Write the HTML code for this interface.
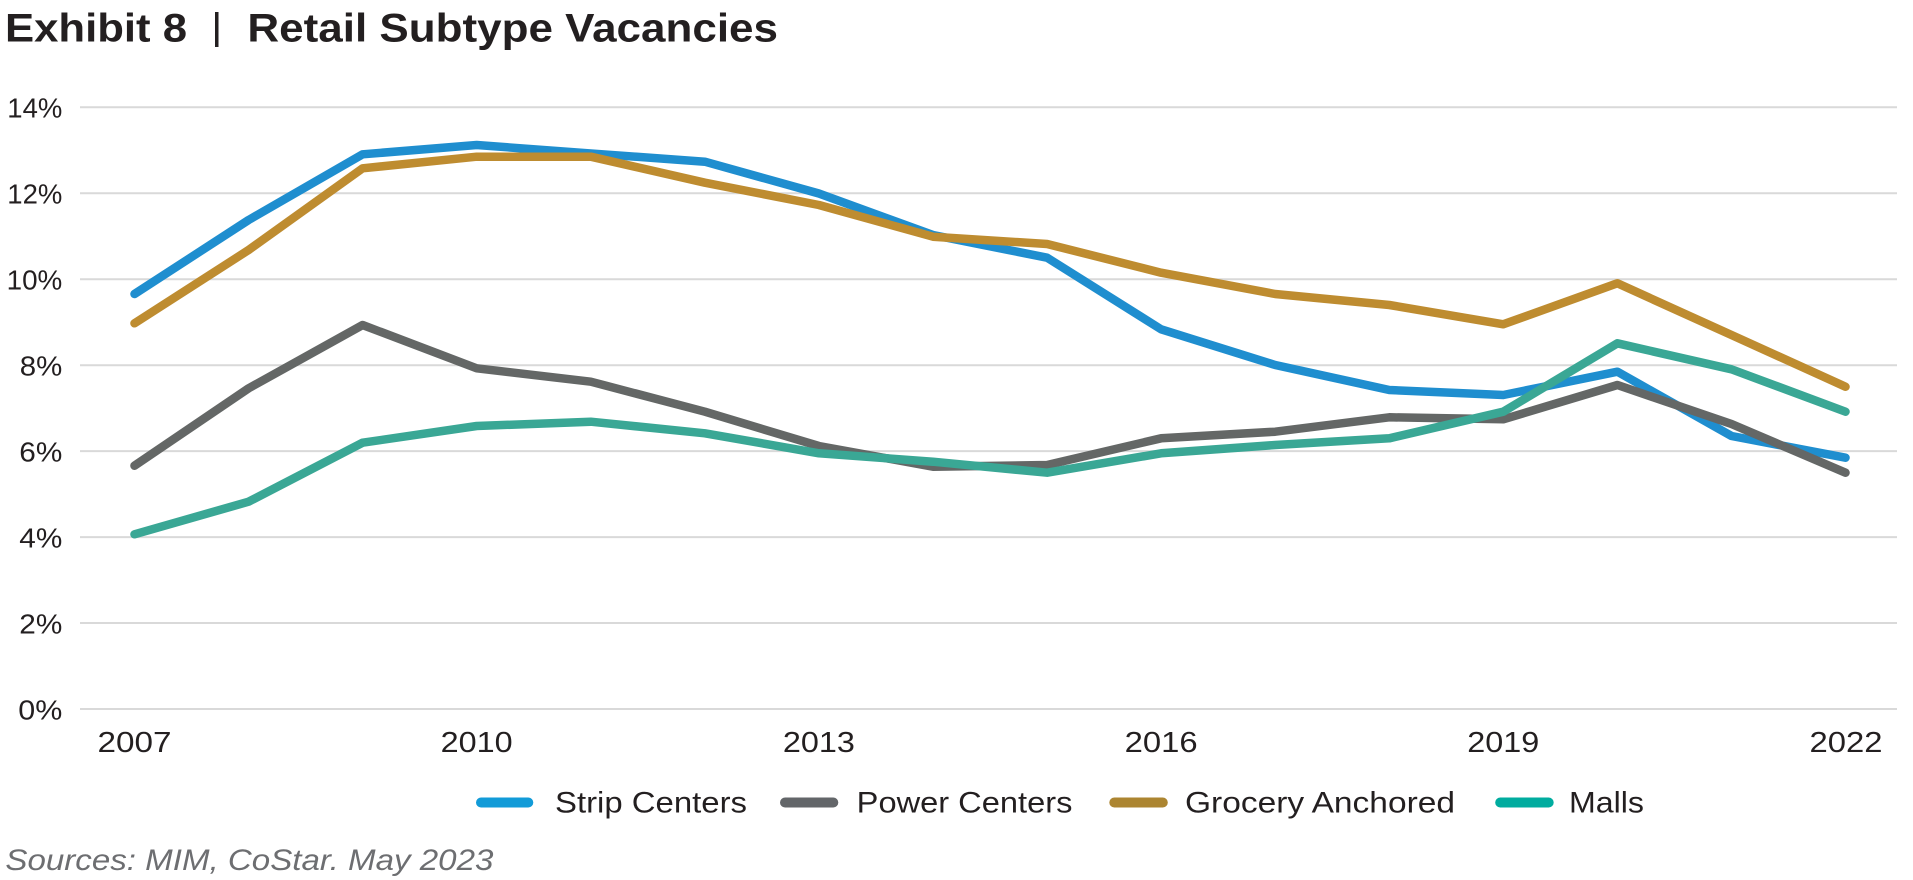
<!DOCTYPE html>
<html>
<head>
<meta charset="utf-8">
<style>
  html, body { margin: 0; padding: 0; background: #ffffff; }
  body { width: 1913px; height: 880px; overflow: hidden; }
  svg { display: block; }
  text { font-family: "Liberation Sans", sans-serif; }
</style>
</head>
<body>
<svg width="1913" height="880" viewBox="0 0 1913 880" xmlns="http://www.w3.org/2000/svg">
  <rect x="0" y="0" width="1913" height="880" fill="#ffffff"/>

  <!-- Title -->
  <text x="5" y="41.7" font-size="40" font-weight="bold" fill="#231f20" textLength="182" lengthAdjust="spacingAndGlyphs">Exhibit 8</text>
  <rect x="215" y="12" width="3.5" height="35" fill="#231f20"/>
  <text x="247.4" y="41.7" font-size="40" font-weight="bold" fill="#231f20" textLength="530.6" lengthAdjust="spacingAndGlyphs">Retail Subtype Vacancies</text>

  <!-- Gridlines -->
  <g stroke="#d9d9d9" stroke-width="2">
    <line x1="80" y1="107.3" x2="1897" y2="107.3"/>
    <line x1="80" y1="193.2" x2="1897" y2="193.2"/>
    <line x1="80" y1="279.2" x2="1897" y2="279.2"/>
    <line x1="80" y1="365.2" x2="1897" y2="365.2"/>
    <line x1="80" y1="451.1" x2="1897" y2="451.1"/>
    <line x1="80" y1="537.1" x2="1897" y2="537.1"/>
    <line x1="80" y1="623.0" x2="1897" y2="623.0"/>
    <line x1="80" y1="709.0" x2="1897" y2="709.0"/>
  </g>

  <!-- Y labels -->
  <g font-size="28" fill="#231f20" text-anchor="end">
    <text x="62.3" y="117.5" textLength="55" lengthAdjust="spacingAndGlyphs">14%</text>
    <text x="62.3" y="203.5" textLength="55" lengthAdjust="spacingAndGlyphs">12%</text>
    <text x="62.3" y="289.5" textLength="55.7" lengthAdjust="spacingAndGlyphs">10%</text>
    <text x="62.3" y="375.5" textLength="42.5" lengthAdjust="spacingAndGlyphs">8%</text>
    <text x="62.3" y="461.4" textLength="43" lengthAdjust="spacingAndGlyphs">6%</text>
    <text x="62.3" y="547.4" textLength="43" lengthAdjust="spacingAndGlyphs">4%</text>
    <text x="62.3" y="633.3" textLength="43" lengthAdjust="spacingAndGlyphs">2%</text>
    <text x="62.3" y="719.5" textLength="44" lengthAdjust="spacingAndGlyphs">0%</text>
  </g>

  <!-- X labels -->
  <g font-size="29" fill="#231f20" text-anchor="middle">
    <text x="134.5" y="752" textLength="74" lengthAdjust="spacingAndGlyphs">2007</text>
    <text x="476.7" y="752" textLength="72" lengthAdjust="spacingAndGlyphs">2010</text>
    <text x="818.9" y="752" textLength="72" lengthAdjust="spacingAndGlyphs">2013</text>
    <text x="1161.1" y="752" textLength="73" lengthAdjust="spacingAndGlyphs">2016</text>
    <text x="1503.3" y="752" textLength="72" lengthAdjust="spacingAndGlyphs">2019</text>
    <text x="1846" y="752" textLength="73" lengthAdjust="spacingAndGlyphs">2022</text>
  </g>

  <!-- Series -->
  <g fill="none" stroke-width="8.5" stroke-linecap="round" stroke-linejoin="round">
    <polyline stroke="#1f8ecf" points="134.5,294 248.6,220 362.6,154.3 476.7,145 590.8,153.5 704.9,161.7 818.9,193.5 933,235 1047.1,257.7 1161.1,329.3 1275.2,365 1389.3,390 1503.3,395 1617.4,371.7 1731.5,436 1845.5,457.7"/>
    <polyline stroke="#646766" points="134.5,465.7 248.6,388.3 362.6,325 476.7,368.3 590.8,381.7 704.9,411.7 818.9,446 933,466.7 1047.1,465 1161.1,438.3 1275.2,431.7 1389.3,417.3 1503.3,419.3 1617.4,385 1731.5,424 1845.5,472.7"/>
    <polyline stroke="#be8c30" points="134.5,323.3 248.6,250 362.6,168.3 476.7,156.7 590.8,156.7 704.9,182.7 818.9,205 933,236.7 1047.1,244 1161.1,272.7 1275.2,294 1389.3,305 1503.3,324.3 1617.4,283.3 1731.5,335 1845.5,386.7"/>
    <polyline stroke="#3aa795" points="134.5,534.3 248.6,501.7 362.6,442.7 476.7,426 590.8,421.7 704.9,433.3 818.9,453.3 933,461.7 1047.1,472.7 1161.1,453.3 1275.2,445 1389.3,438.3 1503.3,411.7 1617.4,343.3 1731.5,369.3 1845.5,411.7"/>
  </g>

  <!-- Legend -->
  <g stroke-width="10" stroke-linecap="round">
    <line x1="481" y1="802.5" x2="528.3" y2="802.5" stroke="#129bd8"/>
    <line x1="785" y1="802.5" x2="833.3" y2="802.5" stroke="#636669"/>
    <line x1="1114.3" y1="802.5" x2="1162.8" y2="802.5" stroke="#ac8531"/>
    <line x1="1500.2" y1="802.5" x2="1548.7" y2="802.5" stroke="#00ac9f"/>
  </g>
  <g font-size="30" fill="#231f20">
    <text x="555" y="812.5" textLength="192" lengthAdjust="spacingAndGlyphs">Strip Centers</text>
    <text x="856.7" y="812.5" textLength="215.7" lengthAdjust="spacingAndGlyphs">Power Centers</text>
    <text x="1185" y="812.5" textLength="270" lengthAdjust="spacingAndGlyphs">Grocery Anchored</text>
    <text x="1569" y="812.5" textLength="75" lengthAdjust="spacingAndGlyphs">Malls</text>
  </g>

  <!-- Source -->
  <text x="5.4" y="870" font-size="30" font-style="italic" fill="#6d6e71" textLength="488" lengthAdjust="spacingAndGlyphs">Sources: MIM, CoStar. May 2023</text>
</svg>
</body>
</html>
